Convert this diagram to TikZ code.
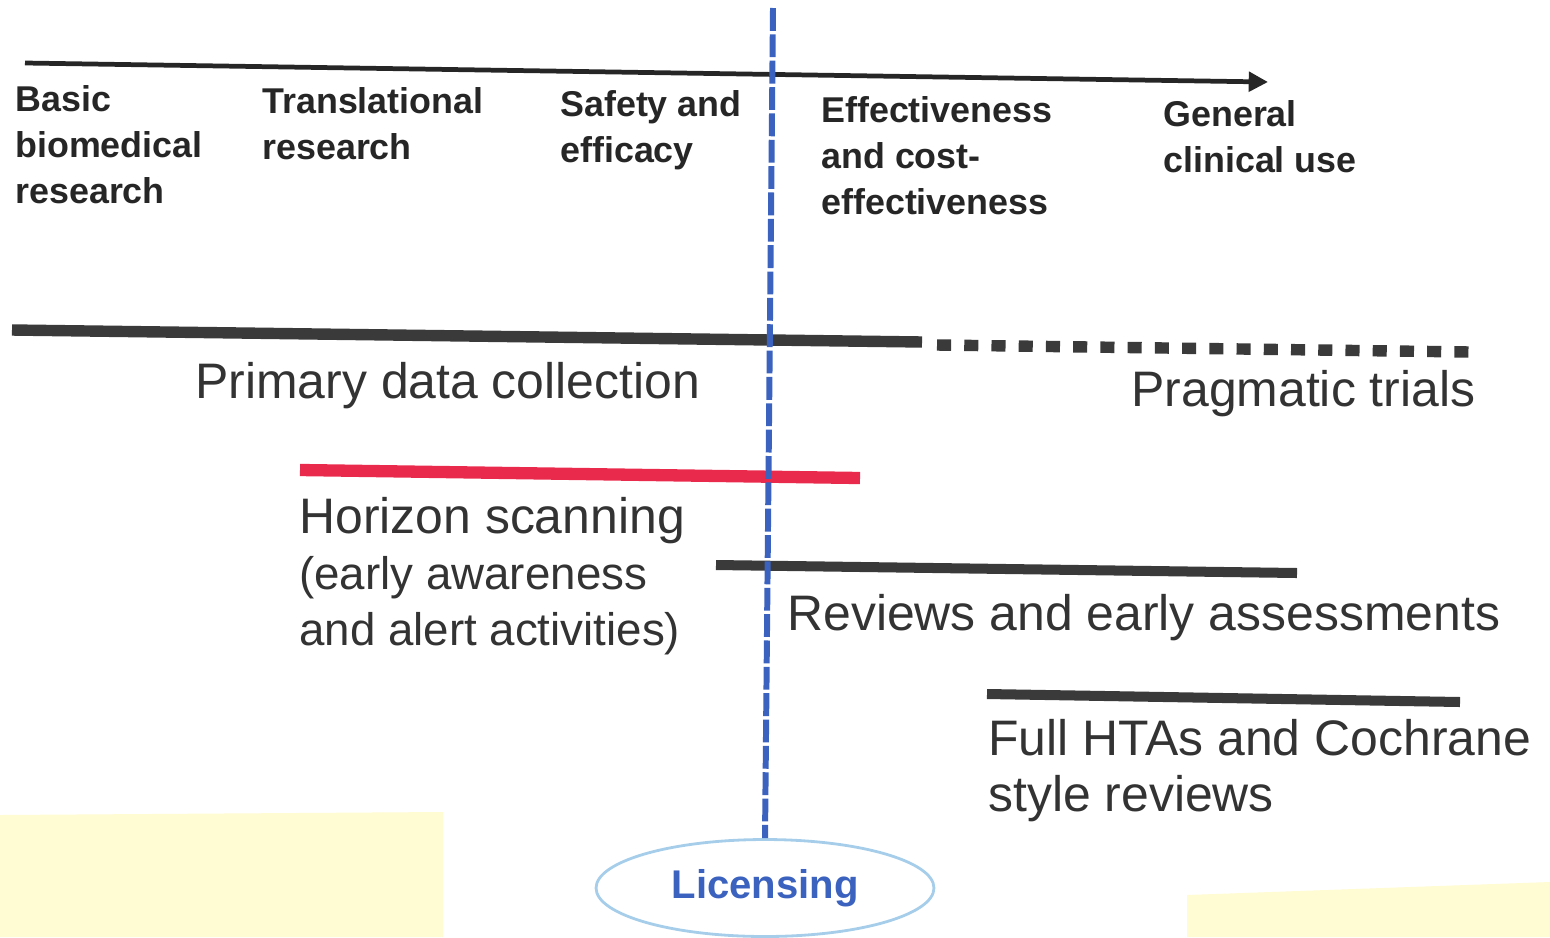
\documentclass[tikz,border=0pt]{standalone}
\usepackage{fontspec}
\setmainfont{Liberation Sans}
\usetikzlibrary{positioning, arrows.meta, shapes.geometric}
\definecolor{inkdark}{HTML}{262626}
\definecolor{inkgray}{HTML}{333333}
\definecolor{bardark}{HTML}{3A3A3A}
\definecolor{scanred}{HTML}{EA2A4C}
\definecolor{licblue}{HTML}{3A62BE}
\definecolor{licedge}{HTML}{A6CEEA}
\definecolor{paleyellow}{HTML}{FFFBD2}
\newcommand{\smallline}{\fontsize{26}{32}\selectfont}
\tikzset{
stage/.style={anchor=north west, inner sep=0pt, align=left, text=inkdark,
  font=\bfseries\fontsize{20.4}{26.2}\selectfont}, % labels along the time axis
activity/.style={anchor=north west, inner sep=0pt, align=left, text=inkgray,
  font=\fontsize{28.4}{32}\selectfont}, % labels under the bars
axis/.style={line width=2.7pt, draw=inkdark, -{Triangle[length=11pt, width=11pt]}}, % the time axis
bar/.style={line width=6.5pt, draw=bardark}, % activity bars
licence/.style={ellipse, draw=licedge, line width=1.6pt, minimum width=6.76cm,
  minimum height=1.94cm, text=licblue, font=\bfseries\fontsize{22.8}{26}\selectfont},
licline/.style={line width=3.4pt, draw=licblue, dash pattern=on 13pt off 2pt}, % licensing marker
}
\begin{document}
\begin{tikzpicture}[x=0.02cm, y=-0.02cm]
  \useasboundingbox (0,0) rectangle (1550,937);
  % yellow patches of the scanned page
  \fill[paleyellow] (0,815) -- (443,812) -- (443,937) -- (0,937) -- cycle;
  \fill[paleyellow] (1187,895) -- (1550,882) -- (1550,937) -- (1187,937) -- cycle;

  % time axis
  \coordinate (ax-l) at (25,63);
  \coordinate (ax-r) at (1268,82);
  \draw[axis] (ax-l) -- (ax-r);

  % stages
  \node[stage] (basic) at (15,85) {Basic\\biomedical\\research};
  \node[stage] (transl) at (262,87) {Translational\\research};
  \node[stage] (safety) at (560,90) {Safety and\\efficacy};
  \node[stage] (effect) at (821,96) {Effectiveness\\and cost-\\effectiveness};
  \node[stage] (general) at (1163,100) {General\\clinical use};

  % primary data collection and pragmatic trials
  \coordinate (pdc-l) at (12,330);
  \coordinate (pdc-r) at (922,342);
  \coordinate (prag-l) at (937,345);
  \coordinate (prag-r) at (1470,352);
  \draw[bar] (pdc-l) -- (pdc-r);
  \draw[bar, dash pattern=on 8pt off 7.5pt] (prag-l) -- (prag-r);
  \node[activity] (pdc) at (195,362) {Primary data collection};
  \node[activity] (prag) at (1131,370) {Pragmatic trials};

  % horizon scanning
  \coordinate (hs-l) at (300,470);
  \coordinate (hs-r) at (860,478);
  \draw[bar, line width=7pt, draw=scanred] (hs-l) -- (hs-r);
  \node[activity] (hs) at (299,497)
    {Horizon scanning\\\smallline(early awareness\\\smallline and alert activities)};

  % reviews
  \coordinate (rev-l) at (716,565);
  \coordinate (rev-r) at (1297,573);
  \draw[bar, line width=5.7pt] (rev-l) -- (rev-r);
  \node[activity] (rev) at (787,594) {Reviews and early assessments};

  % full HTAs
  \coordinate (hta-l) at (987,694);
  \coordinate (hta-r) at (1460,702);
  \draw[bar, line width=5.7pt] (hta-l) -- (hta-r);
  \node[activity] (hta) at (988,719) {Full HTAs and Cochrane\\style reviews};

  % licensing
  \node[licence] (lic) at (765,888) {Licensing};
  \coordinate (lic-top) at (773,8);
  \draw[licline] (lic-top) -- (lic.north);
\end{tikzpicture}
\end{document}
